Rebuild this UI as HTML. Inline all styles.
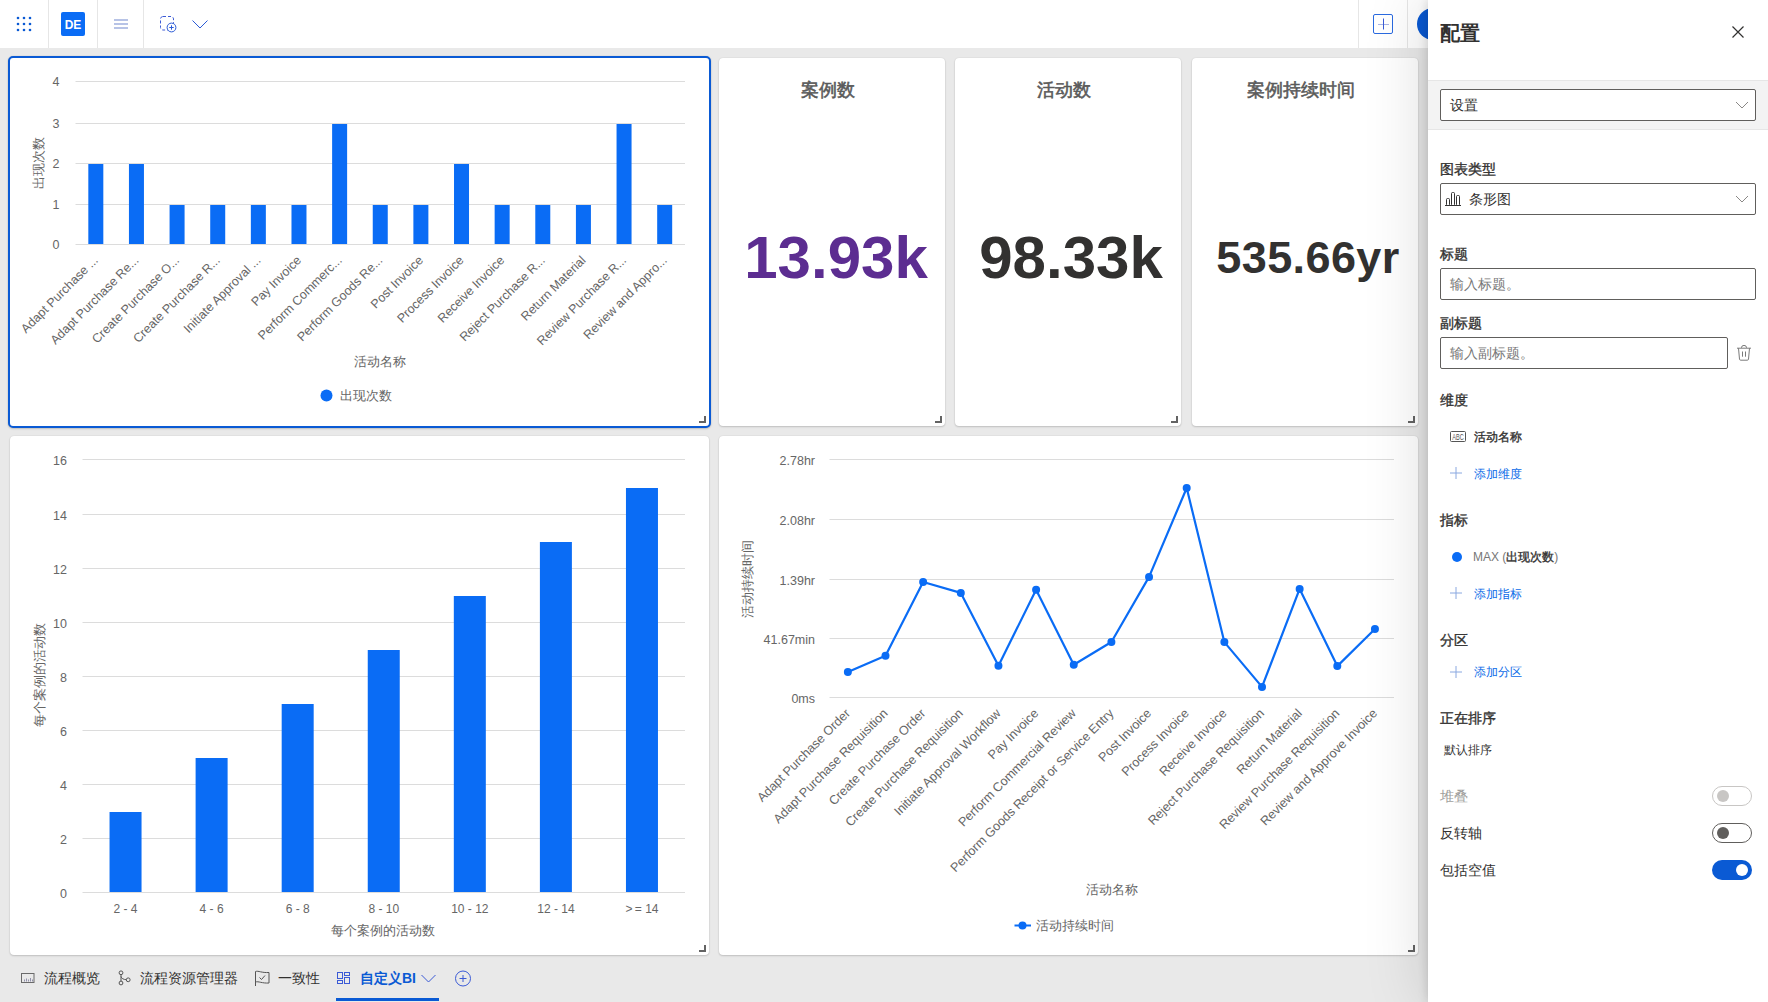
<!DOCTYPE html>
<html><head><meta charset="utf-8">
<style>
*{box-sizing:border-box;margin:0;padding:0}
html,body{width:1768px;height:1002px;overflow:hidden;background:#e9e9e9;font-family:"Liberation Sans", sans-serif;}
.abs{position:absolute}
.topbar{position:absolute;left:0;top:0;width:1768px;height:48px;background:#fff}
.vdiv{position:absolute;top:0;width:1px;height:48px;background:#e6e6e6}
.card{position:absolute;background:#fff;border-radius:4px;box-shadow:0 1px 2px rgba(0,0,0,0.16),0 0 1.5px rgba(0,0,0,0.12)}
.sel{border:2px solid #0a5ad4;border-radius:5px}
.grip{position:absolute;width:7px;height:7px;border-right:2px solid #636363;border-bottom:2px solid #636363}
.kt{position:absolute;left:-4px;width:100%;text-align:center;font-size:18px;color:#5a5a5a;top:20px;-webkit-text-stroke:0.55px #5a5a5a}
.kv{position:absolute;left:0;width:100%;text-align:center;font-weight:bold;white-space:nowrap}
svg text{font-family:"Liberation Sans", sans-serif}
.panel{position:absolute;left:1428px;top:0;width:340px;height:1002px;background:#fff;box-shadow:0 0 60px rgba(0,0,0,0.16),0 0 10px rgba(0,0,0,0.16)}
.pl{position:absolute;left:12px;font-size:14px;color:#323130;line-height:16px;-webkit-text-stroke:0.35px #323130}
.inp{position:absolute;left:12px;width:316px;height:32px;border:1px solid #605e5c;border-radius:2px;background:#fff}
.ph{position:absolute;left:9px;top:7px;font-size:14px;color:#777}
.it{position:absolute;font-size:12px;line-height:14px}
.tog{position:absolute;left:284px;width:40px;height:20px;border-radius:10px}
.knob{position:absolute;top:4px;width:12px;height:12px;border-radius:6px}
.tab{position:absolute;top:970px;font-size:14px;color:#323130;line-height:16px}
</style></head><body>
<div class="topbar">
  <svg class="abs" style="left:0;top:0" width="220" height="48">
    <circle cx="18" cy="18" r="1.3" fill="#0a5ad4"/><circle cx="18" cy="24" r="1.3" fill="#0a5ad4"/><circle cx="18" cy="30" r="1.3" fill="#0a5ad4"/><circle cx="24" cy="18" r="1.3" fill="#0a5ad4"/><circle cx="24" cy="24" r="1.3" fill="#0a5ad4"/><circle cx="24" cy="30" r="1.3" fill="#0a5ad4"/><circle cx="30" cy="18" r="1.3" fill="#0a5ad4"/><circle cx="30" cy="24" r="1.3" fill="#0a5ad4"/><circle cx="30" cy="30" r="1.3" fill="#0a5ad4"/>
    <rect x="61" y="12" width="24" height="24" rx="2" fill="#0a6cf5"/>
    <text x="73" y="29" text-anchor="middle" font-size="12" font-weight="bold" fill="#fff">DE</text>
    <rect x="114" y="19" width="14" height="2" fill="#b7c3e6"/>
    <rect x="114" y="23" width="14" height="2" fill="#b7c3e6"/>
    <rect x="114" y="27" width="14" height="2" fill="#b7c3e6"/>
    <rect x="160.5" y="16.5" width="13" height="13.5" rx="2.5" fill="none" stroke="#3c5bd6" stroke-width="1" stroke-dasharray="3 2"/>
    <circle cx="171.5" cy="27.5" r="4.4" fill="#fff" stroke="#2a5ad6" stroke-width="1"/>
    <path d="M171.5 25.3v4.4M169.3 27.5h4.4" stroke="#2a5ad6" stroke-width="1"/>
    <path d="M192.5 20.5l7.5 7.5l7.5-7.5" fill="none" stroke="#2a5ad6" stroke-width="1"/>
  </svg>
  <div class="vdiv" style="left:48px"></div>
  <div class="vdiv" style="left:97px"></div>
  <div class="vdiv" style="left:143px"></div>
  <div class="vdiv" style="left:1358px"></div>
  <div class="vdiv" style="left:1407px"></div>
  <svg class="abs" style="left:1370px;top:11px" width="26" height="26">
    <rect x="3.5" y="3.5" width="19" height="19" rx="1.5" fill="none" stroke="#2a6ae0" stroke-width="1"/>
    <path d="M8 13.5h11" stroke="#a9b6e6" stroke-width="1"/><path d="M13.5 7.5v11" stroke="#3a5ad6" stroke-width="1"/>
  </svg>
  <div class="abs" style="left:1417px;top:8px;width:32px;height:32px;border-radius:16px;background:#0a5ad4"></div>
</div>

<!-- cards -->
<div class="card sel" style="left:8px;top:56px;width:703px;height:372px"></div>
<div class="card" style="left:719px;top:58px;width:226px;height:368px">
  <div class="kt">案例数</div>
  <div class="kv" style="top:165px;font-size:60px;color:#5c2d91;left:4px">13.93k</div>
</div>
<div class="card" style="left:955px;top:58px;width:226px;height:368px">
  <div class="kt">活动数</div>
  <div class="kv" style="top:165px;font-size:60px;color:#323130;left:3px">98.33k</div>
</div>
<div class="card" style="left:1192px;top:58px;width:226px;height:368px">
  <div class="kt">案例持续时间</div>
  <div class="kv" style="top:174px;font-size:45px;color:#323130;left:3px;letter-spacing:0.4px">535.66yr</div>
</div>
<div class="card" style="left:10px;top:436px;width:699px;height:519px"></div>
<div class="card" style="left:719px;top:436px;width:699px;height:519px"></div>

<div class="grip" style="left:699px;top:416px"></div>
<div class="grip" style="left:935px;top:416px"></div>
<div class="grip" style="left:1171px;top:416px"></div>
<div class="grip" style="left:1408px;top:416px"></div>
<div class="grip" style="left:699px;top:945px"></div>
<div class="grip" style="left:1408px;top:945px"></div>

<svg class="abs" style="left:0;top:0" width="1428" height="1002">
<line x1="75.5" y1="81.5" x2="685" y2="81.5" stroke="#dcdcdc" stroke-width="1"/>
<text x="59.5" y="85.5" text-anchor="end" font-size="12.5" fill="#666666">4</text>
<line x1="75.5" y1="123.5" x2="685" y2="123.5" stroke="#dcdcdc" stroke-width="1"/>
<text x="59.5" y="127.5" text-anchor="end" font-size="12.5" fill="#666666">3</text>
<line x1="75.5" y1="163.5" x2="685" y2="163.5" stroke="#dcdcdc" stroke-width="1"/>
<text x="59.5" y="167.5" text-anchor="end" font-size="12.5" fill="#666666">2</text>
<line x1="75.5" y1="204.5" x2="685" y2="204.5" stroke="#dcdcdc" stroke-width="1"/>
<text x="59.5" y="208.5" text-anchor="end" font-size="12.5" fill="#666666">1</text>
<line x1="75.5" y1="244.5" x2="685" y2="244.5" stroke="#dcdcdc" stroke-width="1"/>
<text x="59.5" y="248.5" text-anchor="end" font-size="12.5" fill="#666666">0</text>
<rect x="88.32" y="164.00" width="15" height="80.00" fill="#0a6cf5"/>
<text transform="translate(98.82,261) rotate(-45)" text-anchor="end" font-size="12.5" fill="#666666">Adapt Purchase ...</text>
<rect x="128.95" y="164.00" width="15" height="80.00" fill="#0a6cf5"/>
<text transform="translate(139.45,261) rotate(-45)" text-anchor="end" font-size="12.5" fill="#666666">Adapt Purchase Re...</text>
<rect x="169.58" y="205.00" width="15" height="39.00" fill="#0a6cf5"/>
<text transform="translate(180.08,261) rotate(-45)" text-anchor="end" font-size="12.5" fill="#666666">Create Purchase O...</text>
<rect x="210.22" y="205.00" width="15" height="39.00" fill="#0a6cf5"/>
<text transform="translate(220.72,261) rotate(-45)" text-anchor="end" font-size="12.5" fill="#666666">Create Purchase R...</text>
<rect x="250.85" y="205.00" width="15" height="39.00" fill="#0a6cf5"/>
<text transform="translate(261.35,261) rotate(-45)" text-anchor="end" font-size="12.5" fill="#666666">Initiate Approval ...</text>
<rect x="291.48" y="205.00" width="15" height="39.00" fill="#0a6cf5"/>
<text transform="translate(301.98,261) rotate(-45)" text-anchor="end" font-size="12.5" fill="#666666">Pay Invoice</text>
<rect x="332.12" y="124.00" width="15" height="120.00" fill="#0a6cf5"/>
<text transform="translate(342.62,261) rotate(-45)" text-anchor="end" font-size="12.5" fill="#666666">Perform Commerc...</text>
<rect x="372.75" y="205.00" width="15" height="39.00" fill="#0a6cf5"/>
<text transform="translate(383.25,261) rotate(-45)" text-anchor="end" font-size="12.5" fill="#666666">Perform Goods Re...</text>
<rect x="413.38" y="205.00" width="15" height="39.00" fill="#0a6cf5"/>
<text transform="translate(423.88,261) rotate(-45)" text-anchor="end" font-size="12.5" fill="#666666">Post Invoice</text>
<rect x="454.02" y="164.00" width="15" height="80.00" fill="#0a6cf5"/>
<text transform="translate(464.52,261) rotate(-45)" text-anchor="end" font-size="12.5" fill="#666666">Process Invoice</text>
<rect x="494.65" y="205.00" width="15" height="39.00" fill="#0a6cf5"/>
<text transform="translate(505.15,261) rotate(-45)" text-anchor="end" font-size="12.5" fill="#666666">Receive Invoice</text>
<rect x="535.28" y="205.00" width="15" height="39.00" fill="#0a6cf5"/>
<text transform="translate(545.78,261) rotate(-45)" text-anchor="end" font-size="12.5" fill="#666666">Reject Purchase R...</text>
<rect x="575.92" y="205.00" width="15" height="39.00" fill="#0a6cf5"/>
<text transform="translate(586.42,261) rotate(-45)" text-anchor="end" font-size="12.5" fill="#666666">Return Material</text>
<rect x="616.55" y="124.00" width="15" height="120.00" fill="#0a6cf5"/>
<text transform="translate(627.05,261) rotate(-45)" text-anchor="end" font-size="12.5" fill="#666666">Review Purchase R...</text>
<rect x="657.18" y="205.00" width="15" height="39.00" fill="#0a6cf5"/>
<text transform="translate(667.68,261) rotate(-45)" text-anchor="end" font-size="12.5" fill="#666666">Review and Appro...</text>
<text transform="translate(43,162.5) rotate(-90)" text-anchor="middle" font-size="13" fill="#666666">出现次数</text>
<text x="380" y="366" text-anchor="middle" font-size="13" fill="#666666">活动名称</text>
<circle cx="326.5" cy="395.5" r="6" fill="#0a6cf5"/>
<text x="340" y="400" font-size="13" fill="#666666">出现次数</text>
<line x1="82.5" y1="459.5" x2="685" y2="459.5" stroke="#dcdcdc" stroke-width="1"/>
<text x="67" y="464.5" text-anchor="end" font-size="12.5" fill="#666666">16</text>
<line x1="82.5" y1="514.5" x2="685" y2="514.5" stroke="#dcdcdc" stroke-width="1"/>
<text x="67" y="519.5" text-anchor="end" font-size="12.5" fill="#666666">14</text>
<line x1="82.5" y1="568.5" x2="685" y2="568.5" stroke="#dcdcdc" stroke-width="1"/>
<text x="67" y="573.5" text-anchor="end" font-size="12.5" fill="#666666">12</text>
<line x1="82.5" y1="622.5" x2="685" y2="622.5" stroke="#dcdcdc" stroke-width="1"/>
<text x="67" y="627.5" text-anchor="end" font-size="12.5" fill="#666666">10</text>
<line x1="82.5" y1="676.5" x2="685" y2="676.5" stroke="#dcdcdc" stroke-width="1"/>
<text x="67" y="681.5" text-anchor="end" font-size="12.5" fill="#666666">8</text>
<line x1="82.5" y1="730.5" x2="685" y2="730.5" stroke="#dcdcdc" stroke-width="1"/>
<text x="67" y="735.5" text-anchor="end" font-size="12.5" fill="#666666">6</text>
<line x1="82.5" y1="784.5" x2="685" y2="784.5" stroke="#dcdcdc" stroke-width="1"/>
<text x="67" y="789.5" text-anchor="end" font-size="12.5" fill="#666666">4</text>
<line x1="82.5" y1="838.5" x2="685" y2="838.5" stroke="#dcdcdc" stroke-width="1"/>
<text x="67" y="843.5" text-anchor="end" font-size="12.5" fill="#666666">2</text>
<line x1="82.5" y1="892.5" x2="685" y2="892.5" stroke="#dcdcdc" stroke-width="1"/>
<text x="67" y="897.5" text-anchor="end" font-size="12.5" fill="#666666">0</text>
<rect x="109.54" y="812.00" width="32" height="80.00" fill="#0a6cf5"/>
<text x="125.54" y="913" text-anchor="middle" font-size="12" fill="#666666">2 - 4</text>
<rect x="195.61" y="758.00" width="32" height="134.00" fill="#0a6cf5"/>
<text x="211.61" y="913" text-anchor="middle" font-size="12" fill="#666666">4 - 6</text>
<rect x="281.68" y="704.00" width="32" height="188.00" fill="#0a6cf5"/>
<text x="297.68" y="913" text-anchor="middle" font-size="12" fill="#666666">6 - 8</text>
<rect x="367.75" y="650.00" width="32" height="242.00" fill="#0a6cf5"/>
<text x="383.75" y="913" text-anchor="middle" font-size="12" fill="#666666">8 - 10</text>
<rect x="453.82" y="596.00" width="32" height="296.00" fill="#0a6cf5"/>
<text x="469.82" y="913" text-anchor="middle" font-size="12" fill="#666666">10 - 12</text>
<rect x="539.89" y="542.00" width="32" height="350.00" fill="#0a6cf5"/>
<text x="555.89" y="913" text-anchor="middle" font-size="12" fill="#666666">12 - 14</text>
<rect x="625.96" y="488.00" width="32" height="404.00" fill="#0a6cf5"/>
<text x="641.96" y="913" text-anchor="middle" font-size="12" fill="#666666">&gt;&#8201;= 14</text>
<text transform="translate(44,675) rotate(-90)" text-anchor="middle" font-size="13" fill="#666666">每个案例的活动数</text>
<text x="383" y="935" text-anchor="middle" font-size="13" fill="#666666">每个案例的活动数</text>
<line x1="829.5" y1="459.5" x2="1394" y2="459.5" stroke="#dcdcdc" stroke-width="1"/>
<text x="815" y="465.0" text-anchor="end" font-size="12.5" fill="#666666">2.78hr</text>
<line x1="829.5" y1="519.5" x2="1394" y2="519.5" stroke="#dcdcdc" stroke-width="1"/>
<text x="815" y="525.0" text-anchor="end" font-size="12.5" fill="#666666">2.08hr</text>
<line x1="829.5" y1="579.5" x2="1394" y2="579.5" stroke="#dcdcdc" stroke-width="1"/>
<text x="815" y="585.0" text-anchor="end" font-size="12.5" fill="#666666">1.39hr</text>
<line x1="829.5" y1="638.5" x2="1394" y2="638.5" stroke="#dcdcdc" stroke-width="1"/>
<text x="815" y="644.0" text-anchor="end" font-size="12.5" fill="#666666">41.67min</text>
<line x1="829.5" y1="697.5" x2="1394" y2="697.5" stroke="#dcdcdc" stroke-width="1"/>
<text x="815" y="703.0" text-anchor="end" font-size="12.5" fill="#666666">0ms</text>
<text transform="translate(850.85,714) rotate(-45)" text-anchor="end" font-size="12.6" fill="#666666">Adapt Purchase Order</text>
<text transform="translate(888.50,714) rotate(-45)" text-anchor="end" font-size="12.6" fill="#666666">Adapt Purchase Requisition</text>
<text transform="translate(926.15,714) rotate(-45)" text-anchor="end" font-size="12.6" fill="#666666">Create Purchase Order</text>
<text transform="translate(963.80,714) rotate(-45)" text-anchor="end" font-size="12.6" fill="#666666">Create Purchase Requisition</text>
<text transform="translate(1001.45,714) rotate(-45)" text-anchor="end" font-size="12.6" fill="#666666">Initiate Approval Workflow</text>
<text transform="translate(1039.10,714) rotate(-45)" text-anchor="end" font-size="12.6" fill="#666666">Pay Invoice</text>
<text transform="translate(1076.75,714) rotate(-45)" text-anchor="end" font-size="12.6" fill="#666666">Perform Commercial Review</text>
<text transform="translate(1114.40,714) rotate(-45)" text-anchor="end" font-size="12.6" fill="#666666">Perform Goods Receipt or Service Entry</text>
<text transform="translate(1152.05,714) rotate(-45)" text-anchor="end" font-size="12.6" fill="#666666">Post Invoice</text>
<text transform="translate(1189.70,714) rotate(-45)" text-anchor="end" font-size="12.6" fill="#666666">Process Invoice</text>
<text transform="translate(1227.35,714) rotate(-45)" text-anchor="end" font-size="12.6" fill="#666666">Receive Invoice</text>
<text transform="translate(1265.00,714) rotate(-45)" text-anchor="end" font-size="12.6" fill="#666666">Reject Purchase Requisition</text>
<text transform="translate(1302.65,714) rotate(-45)" text-anchor="end" font-size="12.6" fill="#666666">Return Material</text>
<text transform="translate(1340.30,714) rotate(-45)" text-anchor="end" font-size="12.6" fill="#666666">Review Purchase Requisition</text>
<text transform="translate(1377.95,714) rotate(-45)" text-anchor="end" font-size="12.6" fill="#666666">Review and Approve Invoice</text>
<polyline points="847.85,672.00 885.50,655.80 923.15,582.00 960.80,592.90 998.45,665.80 1036.10,589.80 1073.75,664.80 1111.40,642.00 1149.05,576.90 1186.70,488.00 1224.35,642.10 1262.00,686.90 1299.65,588.90 1337.30,666.10 1374.95,629.00" fill="none" stroke="#0a6cf5" stroke-width="2.2" stroke-linejoin="round"/>
<circle cx="847.85" cy="672.00" r="4" fill="#0a6cf5"/>
<circle cx="885.50" cy="655.80" r="4" fill="#0a6cf5"/>
<circle cx="923.15" cy="582.00" r="4" fill="#0a6cf5"/>
<circle cx="960.80" cy="592.90" r="4" fill="#0a6cf5"/>
<circle cx="998.45" cy="665.80" r="4" fill="#0a6cf5"/>
<circle cx="1036.10" cy="589.80" r="4" fill="#0a6cf5"/>
<circle cx="1073.75" cy="664.80" r="4" fill="#0a6cf5"/>
<circle cx="1111.40" cy="642.00" r="4" fill="#0a6cf5"/>
<circle cx="1149.05" cy="576.90" r="4" fill="#0a6cf5"/>
<circle cx="1186.70" cy="488.00" r="4" fill="#0a6cf5"/>
<circle cx="1224.35" cy="642.10" r="4" fill="#0a6cf5"/>
<circle cx="1262.00" cy="686.90" r="4" fill="#0a6cf5"/>
<circle cx="1299.65" cy="588.90" r="4" fill="#0a6cf5"/>
<circle cx="1337.30" cy="666.10" r="4" fill="#0a6cf5"/>
<circle cx="1374.95" cy="629.00" r="4" fill="#0a6cf5"/>
<text transform="translate(752,579) rotate(-90)" text-anchor="middle" font-size="13" fill="#666666">活动持续时间</text>
<text x="1112" y="894" text-anchor="middle" font-size="13" fill="#666666">活动名称</text>
<line x1="1014.5" y1="925.5" x2="1031" y2="925.5" stroke="#0a6cf5" stroke-width="2"/>
<circle cx="1022.5" cy="925.5" r="4" fill="#0a6cf5"/>
<text x="1036" y="930" font-size="13" fill="#666666">活动持续时间</text>
</svg>

<!-- bottom tabs -->
<svg class="abs" style="left:0;top:960px" width="480" height="42">
  <rect x="21.5" y="13.5" width="12.5" height="9" fill="none" stroke="#6a6a6a" stroke-width="1"/>
  <path d="M24.5 21.5v-2M26.5 21.5v-3M28.5 21.5v-2M30.5 21.5v-3.5M32.5 21.5v-2" stroke="#7a7a9a" stroke-width="0.8"/>
  <circle cx="121" cy="12.8" r="1.9" fill="none" stroke="#555" stroke-width="1"/>
  <circle cx="121" cy="23" r="1.9" fill="none" stroke="#555" stroke-width="1"/>
  <circle cx="128.2" cy="19.8" r="1.9" fill="none" stroke="#555" stroke-width="1"/>
  <path d="M121 14.7v6.4M121 16.5c0.5 2 2.5 3 5.3 3.2" fill="none" stroke="#555" stroke-width="1"/>
  <path d="M255.5 26V11.5c3-1 6 1.5 13.5 1v10.5c-7 .5-10.5-2-13.5-1" fill="none" stroke="#555" stroke-width="1"/>
  <path d="M259.5 17.5l2 2l3.5-4" fill="none" stroke="#555" stroke-width="1"/>
  <rect x="337.5" y="12.5" width="5" height="6" fill="none" stroke="#3a5ad6"/>
  <rect x="344.5" y="12.5" width="5" height="3" fill="none" stroke="#3a5ad6"/>
  <rect x="337.5" y="20.5" width="5" height="3" fill="none" stroke="#3a5ad6"/>
  <rect x="344.5" y="17.5" width="5" height="6" fill="none" stroke="#3a5ad6"/>
  <path d="M421.5 15l7 7l7-7" fill="none" stroke="#3a5ad6" stroke-width="1"/>
  <circle cx="463" cy="18.5" r="7.5" fill="none" stroke="#3a5ad6" stroke-width="1"/>
  <path d="M463 15v7M459.5 18.5h7" stroke="#3a5ad6" stroke-width="1"/>
  <rect x="336" y="38" width="103" height="3" fill="#0a5ad4"/>
</svg>
<div class="tab" style="left:44px">流程概览</div>
<div class="tab" style="left:140px">流程资源管理器</div>
<div class="tab" style="left:278px">一致性</div>
<div class="tab" style="left:360px;color:#0a5ad4;font-weight:bold">自定义BI</div>

<!-- panel -->
<div class="panel">
  <div class="abs" style="left:12px;top:20px;font-size:20px;font-weight:bold;color:#323130">配置</div>
  <svg class="abs" style="left:302px;top:24px" width="16" height="16"><path d="M2.5 2.5l11 11M13.5 2.5l-11 11" stroke="#323130" stroke-width="1.2"/></svg>
  <div class="abs" style="left:0;top:80px;width:340px;height:50px;background:#f3f3f3;border-top:1px solid #e6e6e6;border-bottom:1px solid #e6e6e6"></div>
  <div class="inp" style="top:89px"><div class="ph" style="color:#323130">设置</div>
    <svg class="abs" style="right:6px;top:10px" width="14" height="10"><path d="M1 2l6 6l6-6" fill="none" stroke="#8a8886" stroke-width="1"/></svg></div>

  <div class="pl" style="top:161px">图表类型</div>
  <div class="inp" style="top:183px">
    <svg class="abs" style="left:4px;top:8px" width="18" height="16"><path d="M0 13.5h16" stroke="#333" stroke-width="1"/><rect x="1.5" y="6.5" width="3" height="7" rx="1" fill="none" stroke="#333"/><rect x="6.5" y="0.5" width="3" height="13" rx="1" fill="none" stroke="#333"/><rect x="11.5" y="3.5" width="3" height="10" rx="1" fill="none" stroke="#333"/></svg>
    <div class="ph" style="left:28px;color:#323130">条形图</div>
    <svg class="abs" style="right:6px;top:10px" width="14" height="10"><path d="M1 2l6 6l6-6" fill="none" stroke="#8a8886" stroke-width="1"/></svg>
  </div>

  <div class="pl" style="top:246px">标题</div>
  <div class="inp" style="top:268px"><div class="ph">输入标题。</div></div>
  <div class="pl" style="top:315px">副标题</div>
  <div class="inp" style="top:337px;width:288px"><div class="ph">输入副标题。</div></div>
  <svg class="abs" style="left:308px;top:344px" width="16" height="18"><path d="M1 4.2h14M5.5 4V3.6a2.5 2.2 0 0 1 5 0V4M2.5 4.2l1 11a1.2 1.2 0 0 0 1.2 1h6.6a1.2 1.2 0 0 0 1.2-1l1-11M6.5 7.5v5.2M9.5 7.5v5.2" fill="none" stroke="#7a7a7a" stroke-width="1"/></svg>

  <div class="pl" style="top:392px">维度</div>
  <svg class="abs" style="left:22px;top:430px" width="18" height="14"><rect x="0.5" y="1.5" width="15" height="10" rx="1" fill="none" stroke="#555"/><text transform="translate(8,10) scale(0.62,1)" text-anchor="middle" font-size="9" fill="#555">ABC</text></svg>
  <div class="it" style="left:46px;top:430px;color:#323130;-webkit-text-stroke:0.35px #323130">活动名称</div>
  <svg class="abs" style="left:22px;top:467px" width="12" height="12"><path d="M6 0v12M0 6h12" stroke="#8aa8e0" stroke-width="1"/></svg>
  <div class="it" style="left:46px;top:467px;color:#0b6be8">添加维度</div>

  <div class="pl" style="top:512px">指标</div>
  <svg class="abs" style="left:23px;top:551px" width="12" height="12"><circle cx="6" cy="6" r="5" fill="#0a6cf5"/></svg>
  <div class="it" style="left:45px;top:550px;color:#777">MAX (<span style="color:#323130;-webkit-text-stroke:0.35px #323130">出现次数</span>)</div>
  <svg class="abs" style="left:22px;top:587px" width="12" height="12"><path d="M6 0v12M0 6h12" stroke="#8aa8e0" stroke-width="1"/></svg>
  <div class="it" style="left:46px;top:587px;color:#0b6be8">添加指标</div>

  <div class="pl" style="top:632px">分区</div>
  <svg class="abs" style="left:22px;top:666px" width="12" height="12"><path d="M6 0v12M0 6h12" stroke="#8aa8e0" stroke-width="1"/></svg>
  <div class="it" style="left:46px;top:665px;color:#0b6be8">添加分区</div>

  <div class="pl" style="top:710px">正在排序</div>
  <div class="it" style="left:16px;top:743px;color:#323130">默认排序</div>

  <div class="pl" style="top:788px;color:#a19f9d;-webkit-text-stroke:0">堆叠</div>
  <div class="tog" style="top:786px;border:1px solid #c8c6c4"><div class="knob" style="left:4px;top:3px;background:#c8c6c4"></div></div>
  <div class="pl" style="top:825px;-webkit-text-stroke:0">反转轴</div>
  <div class="tog" style="top:823px;border:1px solid #605e5c"><div class="knob" style="left:4px;top:3px;background:#605e5c"></div></div>
  <div class="pl" style="top:862px;-webkit-text-stroke:0">包括空值</div>
  <div class="tog" style="top:860px;background:#0a5ad4"><div class="knob" style="left:24px;background:#fff"></div></div>
</div>
</body></html>
